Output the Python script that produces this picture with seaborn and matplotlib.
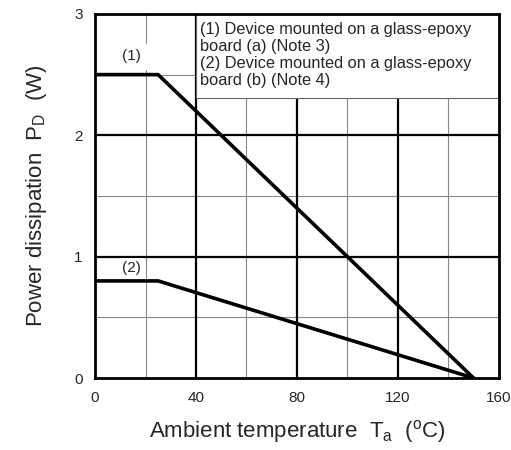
import numpy as np
import seaborn as sns
import matplotlib.pyplot as plt
from matplotlib.patches import Rectangle

ta_1 = [0, 25, 150]
pd_1 = [2.5, 2.5, 0]
ta_2 = [0, 25, 150]
pd_2 = [0.8, 0.8, 0]
x_ticks = [0, 40, 80, 120, 160]
y_ticks = [0, 1, 2, 3]
notes = ("(1) Device mounted on a glass-epoxy\nboard (a) (Note 3)\n"
         "(2) Device mounted on a glass-epoxy\nboard (b) (Note 4)")

sns.set_style("white")
plt.rcParams['font.family'] = ['Liberation Sans', 'DejaVu Sans']

fig = plt.figure(figsize=(5.11, 4.5), dpi=100)
ax = fig.add_axes([0.186, 0.16, 0.79, 0.809])

# grid
for x in [20, 60, 100, 140]:
    ax.axvline(x, color='#888888', lw=0.8, zorder=1)
for y in [0.5, 1.5, 2.5]:
    ax.axhline(y, color='#888888', lw=0.8, zorder=1)
for x in [40, 80, 120]:
    ax.axvline(x, color='black', lw=1.6, zorder=1)
for y in [1, 2]:
    ax.axhline(y, color='black', lw=1.6, zorder=1)

sns.lineplot(x=ta_1, y=pd_1, ax=ax, color='black', lw=2.6, zorder=3)
sns.lineplot(x=ta_2, y=pd_2, ax=ax, color='black', lw=2.6, zorder=3)

ax.add_patch(Rectangle((40, 2.31), 120, 0.69, facecolor='white',
                       edgecolor='#666666', lw=0.8, zorder=4))
ax.text(41.5, 2.93, notes, fontsize=11.8, va='top', ha='left',
        linespacing=1.15, zorder=5)
ax.text(14.5, 2.65, "(1)", fontsize=11, ha='center', va='center',
        backgroundcolor='white', zorder=2)
ax.text(14.5, 0.91, "(2)", fontsize=11, ha='center', va='center', zorder=2,
        bbox=dict(facecolor='white', edgecolor='none', pad=1.5))

ax.set_xlim(0, 160)
ax.set_ylim(0, 3)
ax.set_xticks(x_ticks)
ax.set_yticks(y_ticks)
ax.tick_params(length=0, labelsize=11, pad=9)
for s in ax.spines.values():
    s.set_linewidth(2)
    s.set_color('black')
    s.set_zorder(6)

ax.set_xlabel(r"Ambient temperature  T$_\mathregular{a}$  ($\mathregular{^o}$C)",
              fontsize=16, labelpad=10)
ax.set_ylabel(r"Power dissipation  P$_\mathregular{D}$  (W)",
              fontsize=16, labelpad=18)

fig.savefig("out.png", dpi=100)
